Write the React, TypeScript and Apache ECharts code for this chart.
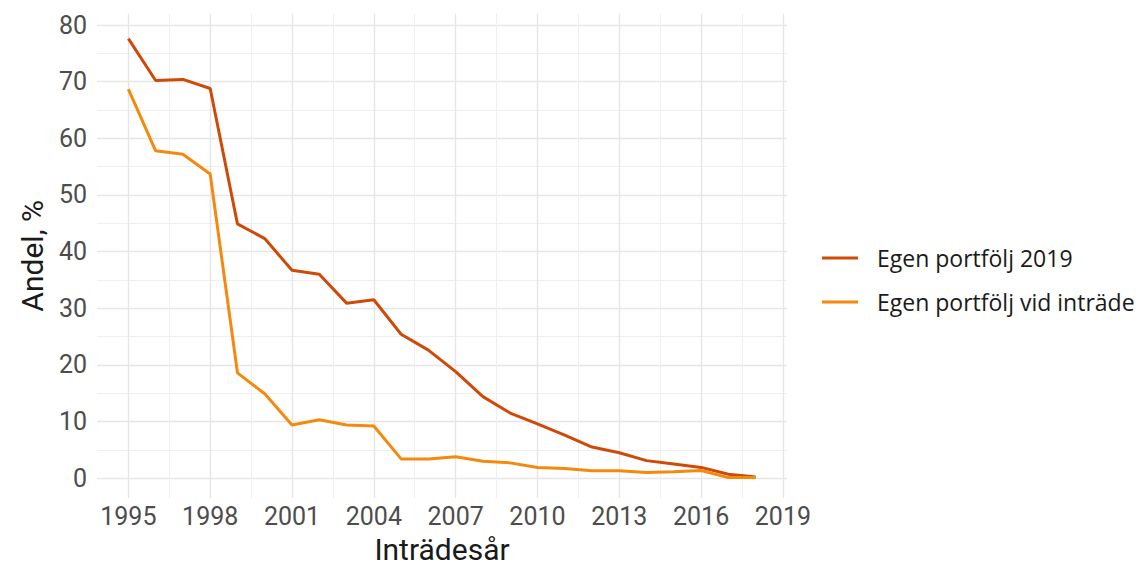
import React, { useEffect, useRef } from "react";
import * as echarts from "echarts";

const years = [1995, 1996, 1997, 1998, 1999, 2000, 2001, 2002, 2003, 2004, 2005, 2006, 2007, 2008, 2009, 2010, 2011, 2012, 2013, 2014, 2015, 2016, 2017, 2018];
const egenPortfolj2019 = [77.6, 70.2, 70.4, 68.8, 44.9, 42.3, 36.7, 36.0, 30.9, 31.5, 25.4, 22.6, 18.8, 14.4, 11.5, 9.6, 7.6, 5.5, 4.5, 3.1, 2.5, 1.9, 0.7, 0.2];
const egenPortfoljVidIntrade = [68.7, 57.8, 57.2, 53.7, 18.6, 14.9, 9.4, 10.3, 9.4, 9.2, 3.4, 3.4, 3.8, 3.0, 2.7, 1.9, 1.7, 1.3, 1.3, 1.0, 1.15, 1.35, 0.1, 0.1];
const seriesNames = ["Egen portfölj 2019", "Egen portfölj vid inträde"];
const seriesColors = ["#D04A07", "#F5890D"];
const xTickLabels = [1995, 1998, 2001, 2004, 2007, 2010, 2013, 2016, 2019];
const yTickLabels = [0, 10, 20, 30, 40, 50, 60, 70, 80];
const xTitle = "Inträdesår";
const yTitle = "Andel, %";

const AXIS_FONT = "Roboto";
const LEGEND_FONT = "Open Sans";
const X_MIN = 1993.85;
const X_MAX = 2019.15;
const Y_MIN = -3.5;
const Y_MAX = 82;

const midpoints = (ticks: number[]) => ticks.slice(1).map((t, i) => (t + ticks[i]) / 2);

export default function App() {
  const ref = useRef<HTMLDivElement>(null);
  useEffect(() => {
    if (!ref.current) return;
    const chart = echarts.init(ref.current, null, { renderer: "svg" });
    const xMinor = midpoints(xTickLabels);
    const yMinor = midpoints(yTickLabels);
    const hidden = { axisLine: { show: false } };
    chart.setOption({
      animation: false,
      backgroundColor: "#ffffff",
      textStyle: { fontFamily: AXIS_FONT },
      grid: { left: 97, right: 360, top: 13.7, bottom: 69, containLabel: false, outerBoundsMode: "none" },
      legend: {
        orient: "vertical",
        left: 817,
        top: 239,
        itemWidth: 36,
        itemHeight: 3,
        itemGap: 16,
        icon: "rect",
        data: seriesNames,
        textStyle: {
          fontFamily: LEGEND_FONT,
          fontSize: 23,
          color: "#1a1a1a",
          lineHeight: 28,
          padding: [0, 0, 0, 14],
        },
      },
      xAxis: [
        {
          type: "value",
          min: X_MIN,
          max: X_MAX,
          name: xTitle,
          nameLocation: "middle",
          nameGap: 38,
          nameTextStyle: { fontFamily: AXIS_FONT, fontSize: 30, lineHeight: 26, color: "#1a1a1a", verticalAlign: "top" },
          ...hidden,
          axisTick: { show: false, customValues: xTickLabels },
          axisLabel: {
            show: true,
            margin: 7,
            fontFamily: AXIS_FONT,
            fontSize: 25,
            lineHeight: 22,
            color: "#4d4d4d",
            customValues: xTickLabels,
            formatter: (v: number) => String(Math.round(v)),
          },
          splitLine: { show: true, lineStyle: { color: "#e6e6e6", width: 1.4 } },
        },
        {
          type: "value",
          min: X_MIN,
          max: X_MAX,
          position: "bottom",
          ...hidden,
          axisTick: { show: false, customValues: xMinor },
          axisLabel: { show: false, customValues: xMinor },
          splitLine: { show: true, lineStyle: { color: "#efefef", width: 1 } },
        },
      ],
      yAxis: [
        {
          type: "value",
          min: Y_MIN,
          max: Y_MAX,
          name: yTitle,
          nameLocation: "middle",
          nameGap: 48,
          nameTextStyle: { fontFamily: AXIS_FONT, fontSize: 30, color: "#1a1a1a" },
          ...hidden,
          axisTick: { show: false, customValues: yTickLabels },
          axisLabel: {
            show: true,
            margin: 10,
            fontFamily: AXIS_FONT,
            fontSize: 25,
            color: "#4d4d4d",
            customValues: yTickLabels,
            formatter: (v: number) => String(Math.round(v)),
          },
          splitLine: { show: true, lineStyle: { color: "#e6e6e6", width: 1.4 } },
        },
        {
          type: "value",
          min: Y_MIN,
          max: Y_MAX,
          position: "left",
          ...hidden,
          axisTick: { show: false, customValues: yMinor },
          axisLabel: { show: false, customValues: yMinor },
          splitLine: { show: true, lineStyle: { color: "#efefef", width: 1 } },
        },
      ],
      series: [
        {
          name: seriesNames[0],
          type: "line",
          xAxisIndex: 0,
          yAxisIndex: 0,
          symbol: "none",
          color: seriesColors[0],
          lineStyle: { width: 3, color: seriesColors[0] },
          data: years.map((y, i) => [y, egenPortfolj2019[i]]),
        },
        {
          name: seriesNames[1],
          type: "line",
          xAxisIndex: 0,
          yAxisIndex: 0,
          symbol: "none",
          color: seriesColors[1],
          lineStyle: { width: 3, color: seriesColors[1] },
          data: years.map((y, i) => [y, egenPortfoljVidIntrade[i]]),
        },
      ],
    });
    return () => chart.dispose();
  }, []);
  return <div ref={ref} style={{ position: "fixed", left: 0, top: 0, width: 1147, height: 567 }} />;
}
